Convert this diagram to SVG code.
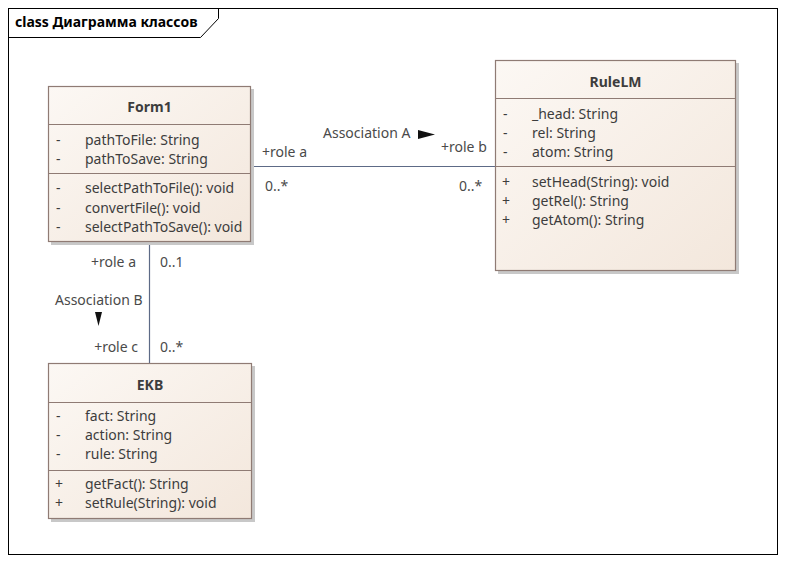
<svg xmlns="http://www.w3.org/2000/svg" width="786" height="564" viewBox="0 0 786 564">
<defs>
<linearGradient id="g" x1="0" y1="0" x2="1" y2="1">
<stop offset="0" stop-color="#fcf8f4"/>
<stop offset="1" stop-color="#f3e7dc"/>
</linearGradient>
<style>
text{font-family:"Noto Sans","Open Sans","Liberation Sans",sans-serif;font-size:14px;fill:#3d3d3d}
.t{font-weight:bold;text-anchor:middle}
.box{fill:url(#g);stroke:#8f7b74;stroke-width:1.2}
.sh{fill:#c8c8c8}
.sep{stroke:#8f7b74;stroke-width:1.2}
.con{stroke:#5d6a86;stroke-width:1.2;fill:none}
.lbl{fill:#4a4a4a}
</style>
</defs>
<rect x="0" y="0" width="786" height="564" fill="#fff"/>
<g id="frame">
<rect x="8.5" y="8.5" width="769" height="546" fill="none" stroke="#000" stroke-width="1"/>
<path d="M8.5 37.5 H200.5 L218.5 18.5 V8.5" fill="none" stroke="#000" stroke-width="1"/>
<text x="15" y="27" style="font-weight:bold;fill:#000">class Диаграмма классов</text>
</g>
<g id="connectors">
<line class="con" x1="251" y1="166.5" x2="495" y2="166.5"/>
<line class="con" x1="149.5" y1="242" x2="149.5" y2="363"/>
<path d="M418 130 L435 134.5 L418 139 Z" fill="#111"/>
<path d="M95 312 L102 312 L98.5 326 Z" fill="#111"/>
<text class="lbl" x="323" y="138">Association A</text>
<text class="lbl" x="262" y="157">+role a</text>
<text class="lbl" x="441" y="152">+role b</text>
<text class="lbl" x="265" y="191">0..*</text>
<text class="lbl" x="459" y="191">0..*</text>
<text class="lbl" x="136" y="267" text-anchor="end">+role a</text>
<text class="lbl" x="160" y="267">0..1</text>
<text class="lbl" x="55" y="305">Association B</text>
<text class="lbl" x="138" y="352" text-anchor="end">+role c</text>
<text class="lbl" x="160" y="352">0..*</text>
</g>
<g id="Form1">
<rect class="sh" x="51" y="89" width="203" height="156"/>
<rect class="box" x="48.5" y="86.5" width="202" height="155"/>
<text class="t" x="149.5" y="112">Form1</text>
<line class="sep" x1="48.5" y1="124.5" x2="250.5" y2="124.5"/>
<text x="56" y="145">-</text><text x="85" y="145">pathToFile: String</text>
<text x="56" y="164">-</text><text x="85" y="164">pathToSave: String</text>
<line class="sep" x1="48.5" y1="173.5" x2="250.5" y2="173.5"/>
<text x="56" y="193">-</text><text x="85" y="193">selectPathToFile(): void</text>
<text x="56" y="213">-</text><text x="85" y="213">convertFile(): void</text>
<text x="56" y="232">-</text><text x="85" y="232">selectPathToSave(): void</text>
</g>
<g id="RuleLM">
<rect class="sh" x="498" y="63" width="241" height="211"/>
<rect class="box" x="495.5" y="60.5" width="240" height="210"/>
<text class="t" x="615.5" y="87">RuleLM</text>
<line class="sep" x1="495.5" y1="98.5" x2="735.5" y2="98.5"/>
<text x="503" y="119">-</text><text x="532" y="119">_head: String</text>
<text x="503" y="138">-</text><text x="532" y="138">rel: String</text>
<text x="503" y="157">-</text><text x="532" y="157">atom: String</text>
<line class="sep" x1="495.5" y1="166.5" x2="735.5" y2="166.5"/>
<text x="502" y="187">+</text><text x="532" y="187">setHead(String): void</text>
<text x="502" y="206">+</text><text x="532" y="206">getRel(): String</text>
<text x="502" y="225">+</text><text x="532" y="225">getAtom(): String</text>
</g>
<g id="EKB">
<rect class="sh" x="51" y="366" width="204" height="156"/>
<rect class="box" x="48.5" y="363.5" width="203" height="155"/>
<text class="t" x="150" y="390">EKB</text>
<line class="sep" x1="48.5" y1="402.5" x2="251.5" y2="402.5"/>
<text x="56" y="421">-</text><text x="85" y="421">fact: String</text>
<text x="56" y="440">-</text><text x="85" y="440">action: String</text>
<text x="56" y="459">-</text><text x="85" y="459">rule: String</text>
<line class="sep" x1="48.5" y1="470.5" x2="251.5" y2="470.5"/>
<text x="55" y="489">+</text><text x="85" y="489">getFact(): String</text>
<text x="55" y="508">+</text><text x="85" y="508">setRule(String): void</text>
</g>
</svg>
